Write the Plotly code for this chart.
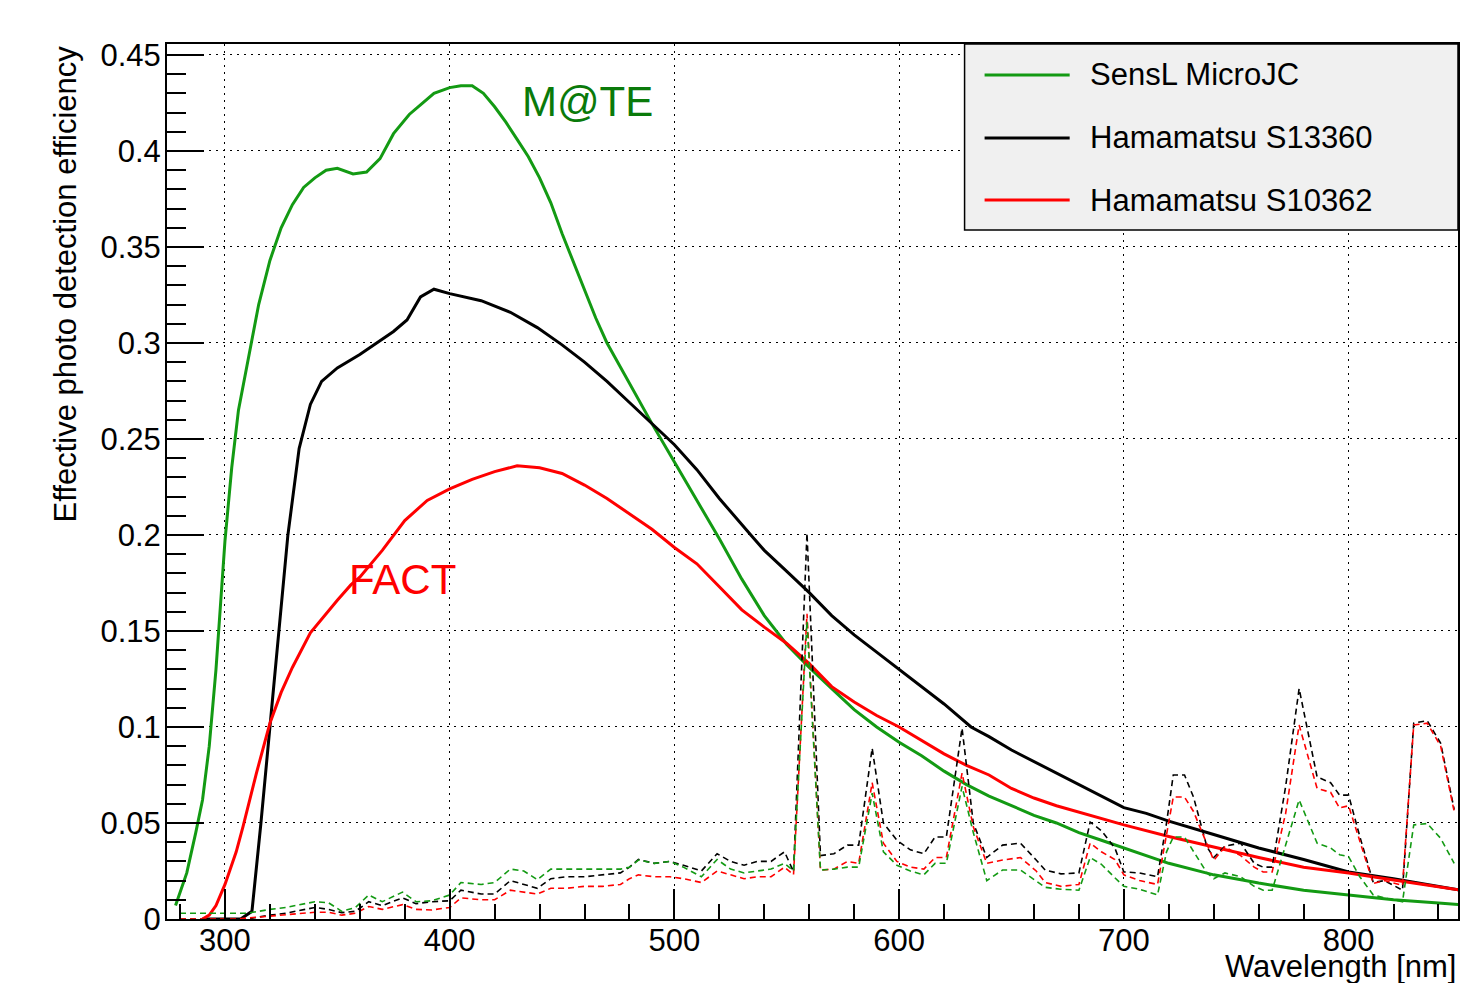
import plotly.graph_objects as go

# ---------------- data ----------------
series_names = ["SensL MicroJC", "Hamamatsu S13360", "Hamamatsu S10362"]
series_colors = ["#139a13", "#000000", "#ff0000"]

# SensL MicroJC (solid)
wl_green = [278, 283, 287, 290, 293, 296, 300, 303, 306, 310, 315, 320, 325, 330, 335, 340, 345, 350,
            357, 363, 369, 375, 382, 387, 393, 400, 405, 410, 415, 420, 425, 430, 435, 440, 445, 450,
            455, 460, 465, 470, 480, 490, 500, 510, 520, 530, 540, 550, 560, 570, 580, 590, 600, 610,
            620, 630, 640, 650, 660, 670, 680, 690, 700, 720, 740, 760, 780, 800, 820, 840, 850]
pde_green = [0.007, 0.024, 0.045, 0.062, 0.09, 0.13, 0.197, 0.235, 0.265, 0.29, 0.32, 0.343, 0.36, 0.372,
             0.381, 0.386, 0.39, 0.391, 0.388, 0.389, 0.396, 0.409, 0.419, 0.424, 0.43, 0.433, 0.434,
             0.434, 0.43, 0.423, 0.415, 0.406, 0.397, 0.386, 0.373, 0.357, 0.342, 0.327, 0.313, 0.3,
             0.279, 0.258, 0.238, 0.218, 0.198, 0.177, 0.158, 0.143, 0.131, 0.12, 0.109, 0.1, 0.092,
             0.085, 0.077, 0.07, 0.064, 0.059, 0.054, 0.05, 0.045, 0.041, 0.037, 0.029, 0.023, 0.0187,
             0.015, 0.0125, 0.01, 0.0083, 0.0075]

# Hamamatsu S13360 (solid)
wl_black = [290, 300, 307, 312, 316, 320, 324, 328, 333, 338, 343, 350, 360, 370, 375, 381, 387, 393,
            400, 414, 427, 439, 450, 460, 470, 480, 490, 500, 510, 520, 534, 540, 550, 560, 570, 580,
            590, 600, 610, 620, 632, 640, 650, 660, 670, 680, 690, 700, 710, 720, 740, 760, 780, 800,
            820, 840, 850]
pde_black = [0.0, 0.0, 0.0, 0.004, 0.05, 0.1, 0.15, 0.2, 0.245, 0.268, 0.28, 0.287, 0.294, 0.302, 0.306,
             0.312, 0.324, 0.328, 0.3257, 0.322, 0.316, 0.308, 0.299, 0.29, 0.28, 0.269, 0.258, 0.247,
             0.234, 0.219, 0.2, 0.192, 0.181, 0.17, 0.158, 0.148, 0.139, 0.13, 0.121, 0.112, 0.1, 0.095,
             0.088, 0.082, 0.076, 0.07, 0.064, 0.058, 0.055, 0.051, 0.044, 0.037, 0.031, 0.0245, 0.021,
             0.017, 0.015]

# Hamamatsu S10362 (solid)
wl_red = [290, 293, 296, 300, 305, 308, 314, 320, 325, 330, 338, 345, 350, 356, 360, 370, 380, 390, 400,
          410, 420, 430, 440, 450, 460, 470, 480, 490, 500, 510, 520, 530, 540, 550, 560, 570, 580, 590,
          600, 610, 620, 630, 640, 650, 660, 670, 680, 690, 700, 720, 740, 760, 780, 800, 820, 840, 850]
pde_red = [0.0, 0.002, 0.007, 0.018, 0.035, 0.048, 0.076, 0.102, 0.118, 0.131, 0.149, 0.159, 0.166, 0.174,
           0.178, 0.192, 0.2075, 0.218, 0.224, 0.229, 0.233, 0.236, 0.235, 0.232, 0.226, 0.219, 0.211,
           0.203, 0.1935, 0.185, 0.173, 0.161, 0.152, 0.1435, 0.133, 0.121, 0.113, 0.106, 0.1, 0.093,
           0.086, 0.08, 0.075, 0.068, 0.063, 0.059, 0.0557, 0.052, 0.049, 0.043, 0.0375, 0.032, 0.027,
           0.024, 0.0203, 0.0167, 0.015]

# dashed curves (shared wavelength grid)
wl_dash = [280, 285, 290, 295, 300, 305, 310, 315, 320, 327, 335, 340, 346, 352, 358, 364, 370, 379, 385,
           392, 400, 405, 414, 420, 427, 433, 439, 445, 452, 460, 468, 476, 480, 484, 491, 498, 504, 512,
           519, 525, 531, 537, 543, 549, 553, 559, 565, 571, 577, 582, 588, 593, 599, 605, 611, 616, 621,
           628, 633, 639, 646, 654, 661, 665, 672, 680, 685, 690, 696, 700, 707, 715, 719, 722, 727, 731,
           737, 740, 745, 752, 758, 762, 766, 772, 778, 786, 792, 796, 800, 805, 811, 816, 824, 829, 835,
           841, 847]
dash_black = [0, 0, 0, 0, 0, 0, 0, 0.001, 0.002, 0.003, 0.005, 0.006, 0.005, 0.0033, 0.004, 0.009, 0.007,
              0.011, 0.008, 0.009, 0.0095, 0.015, 0.013, 0.013, 0.02, 0.018, 0.016, 0.021, 0.022, 0.022,
              0.023, 0.024, 0.027, 0.031, 0.029, 0.03, 0.028, 0.025, 0.034, 0.03, 0.028, 0.03, 0.03, 0.035,
              0.0246, 0.201, 0.033, 0.034, 0.0385, 0.0385, 0.089, 0.05, 0.041, 0.036, 0.034, 0.0427, 0.0427,
              0.0994, 0.05, 0.032, 0.0385, 0.0395, 0.0307, 0.0255, 0.0235, 0.024, 0.0505, 0.046, 0.037,
              0.0245, 0.024, 0.022, 0.05, 0.075, 0.075, 0.0635, 0.0375, 0.032, 0.038, 0.0395, 0.029, 0.027,
              0.027, 0.069, 0.12, 0.074, 0.071, 0.0645, 0.0645, 0.043, 0.019, 0.02, 0.015, 0.102, 0.1033,
              0.0915, 0.057]
dash_red = [0, 0, 0, 0, 0, 0, 0.0005, 0.001, 0.0015, 0.002, 0.003, 0.0035, 0.0035, 0.002, 0.003, 0.0065,
            0.005, 0.0075, 0.005, 0.0047, 0.006, 0.011, 0.01, 0.01, 0.015, 0.014, 0.013, 0.016, 0.016,
            0.017, 0.017, 0.018, 0.021, 0.023, 0.022, 0.022, 0.021, 0.019, 0.025, 0.023, 0.021, 0.022,
            0.022, 0.027, 0.023, 0.159, 0.0255, 0.026, 0.03, 0.029, 0.071, 0.0395, 0.03, 0.027, 0.026,
            0.032, 0.032, 0.076, 0.048, 0.029, 0.0307, 0.032, 0.025, 0.019, 0.017, 0.018, 0.0395, 0.035,
            0.031, 0.023, 0.02, 0.018, 0.045, 0.0635, 0.0635, 0.056, 0.039, 0.0306, 0.0375, 0.033, 0.027,
            0.0245, 0.0245, 0.055, 0.101, 0.068, 0.066, 0.0578, 0.059, 0.04, 0.0185, 0.02, 0.0175, 0.101,
            0.102, 0.09, 0.056]
dash_green = [0.003, 0.003, 0.003, 0.003, 0.003, 0.003, 0.003, 0.004, 0.005, 0.006, 0.008, 0.009, 0.0085,
              0.004, 0.006, 0.0125, 0.009, 0.014, 0.009, 0.0095, 0.0125, 0.019, 0.018, 0.019, 0.026, 0.025,
              0.0205, 0.026, 0.026, 0.026, 0.026, 0.026, 0.027, 0.0307, 0.029, 0.03, 0.027, 0.022, 0.031,
              0.026, 0.024, 0.025, 0.026, 0.029, 0.025, 0.155, 0.0255, 0.026, 0.027, 0.027, 0.0655, 0.035,
              0.028, 0.025, 0.023, 0.029, 0.029, 0.069, 0.045, 0.02, 0.0255, 0.0255, 0.02, 0.0165, 0.0155,
              0.015, 0.032, 0.0285, 0.0215, 0.017, 0.0155, 0.0125, 0.035, 0.0427, 0.0427, 0.035, 0.024,
              0.021, 0.024, 0.022, 0.017, 0.015, 0.015, 0.0385, 0.062, 0.0395, 0.037, 0.0335, 0.0325, 0.022,
              0.0125, 0.011, 0.009, 0.049, 0.0497, 0.042, 0.029]

x_tick_values = [300, 400, 500, 600, 700, 800]
y_tick_values = [0, 0.05, 0.1, 0.15, 0.2, 0.25, 0.3, 0.35, 0.4, 0.45]
y_tick_labels = ["0", "0.05", "0.1", "0.15", "0.2", "0.25", "0.3", "0.35", "0.4", "0.45"]

FONT = "Liberation Sans, Arial, Helvetica, sans-serif"
FS = 31

fig = go.Figure()

solid = [(wl_green, pde_green), (wl_black, pde_black), (wl_red, pde_red)]
for (xs, ys), name, col in zip(solid, series_names, series_colors):
    fig.add_trace(go.Scatter(x=xs, y=ys, mode="lines", name=name,
                             line=dict(color=col, width=3), showlegend=False))

for ys, col in zip([dash_black, dash_red, dash_green], ["#000000", "#ff0000", "#139a13"]):
    fig.add_trace(go.Scatter(x=wl_dash, y=ys, mode="lines", showlegend=False,
                             line=dict(color=col, width=1.6, dash="6px,4px")))

axis_common = dict(showline=True, linecolor="black", linewidth=2, mirror=True,
                   ticks="inside", tickcolor="black", tickwidth=1.5,
                   showgrid=True, gridcolor="black", gridwidth=1.3, griddash="2px,5px",
                   zeroline=False, tickfont=dict(family=FONT, size=FS, color="black"))

fig.update_xaxes(range=[274.2, 848.7], tickvals=x_tick_values, ticklen=30, ticklabelstandoff=-7,
                 minor=dict(tick0=300, dtick=20, ticklen=15, ticks="inside", tickcolor="black",
                            tickwidth=1.5, showgrid=False),
                 **axis_common)
fig.update_yaxes(range=[0, 0.4557], tickvals=y_tick_values, ticktext=y_tick_labels, ticklen=37,
                 ticklabelstandoff=-2,
                 minor=dict(tick0=0, dtick=0.01, ticklen=19, ticks="inside", tickcolor="black",
                            tickwidth=1.5, showgrid=False),
                 **axis_common)

# text labels
fig.add_annotation(x=431.4, y=0.426, xref="x", yref="y", text="M@TE", showarrow=False,
                   xanchor="left", yanchor="middle", font=dict(family=FONT, size=42, color="#0a7a0a"))
fig.add_annotation(x=354.3, y=0.177, xref="x", yref="y", text="FACT", showarrow=False,
                   xanchor="left", yanchor="middle", font=dict(family=FONT, size=42, color="#ff0000"))

# axis titles (ROOT style, aligned to the axis end)
fig.add_annotation(x=-0.0783, y=0.7263, xref="paper", yref="paper", text="Effective photo detection efficiency",
                   textangle=-90, showarrow=False, xanchor="center", yanchor="middle",
                   font=dict(family=FONT, size=FS, color="black"))
fig.add_annotation(x=1.0, y=-0.0545, xref="paper", yref="paper", text="Wavelength [nm]",
                   showarrow=False, xanchor="right", yanchor="middle",
                   font=dict(family=FONT, size=FS, color="black"))

# legend box (ROOT TLegend style)
fig.add_shape(type="rect", xref="paper", yref="paper", x0=0.6178, x1=1.0, y0=0.7874, y1=1.0,
              fillcolor="#f0f0f0", line=dict(color="black", width=1.5), layer="above")
leg_rows = [0.9646, 0.8926, 0.8217]
for yrow, name, col in zip(leg_rows, series_names, series_colors):
    fig.add_shape(type="line", xref="paper", yref="paper", x0=0.6333, x1=0.6992, y0=yrow, y1=yrow,
                  line=dict(color=col, width=3), layer="above")
    fig.add_annotation(x=0.7132, y=yrow, xref="paper", yref="paper", text=name, showarrow=False,
                       xanchor="left", yanchor="middle", font=dict(family=FONT, size=FS, color="black"))

# the page body adds an 8px offset, so the figure is 8px smaller on each side
fig.update_layout(width=1474, height=975, margin=dict(l=159, r=24, t=36, b=64),
                  plot_bgcolor="white", paper_bgcolor="white", showlegend=False,
                  font=dict(family=FONT, color="black"))

fig.write_html("out.html")
